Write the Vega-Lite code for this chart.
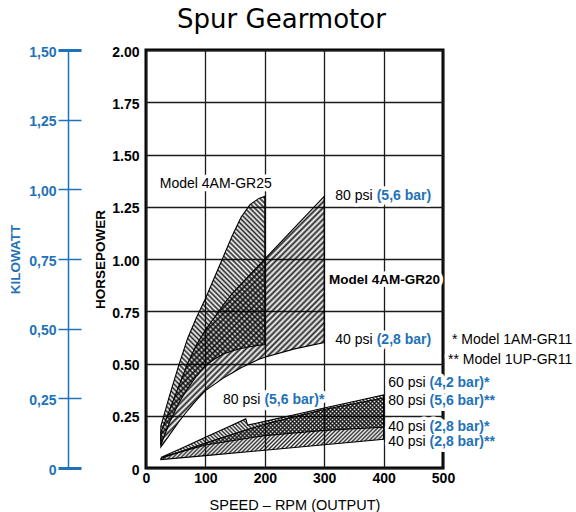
{
"$schema":"https://vega.github.io/schema/vega-lite/v6.json",
"width":297,"height":418,
"autosize":{"type":"none"},
"padding":{"left":146,"top":50,"right":133,"bottom":44},
"title":{"text":"Spur Gearmotor","font":"DejaVu Sans","fontSize":26,"fontWeight":"normal","color":"black","anchor":"middle","frame":"group","baseline":"alphabetic","offset":-8.5,"dx":-13},
"datasets":{
"gr25":[{"rpm":25,"hi":0.2,"lo":0.11},{"rpm":40,"hi":0.35,"lo":0.22},{"rpm":55,"hi":0.49,"lo":0.31},{"rpm":70,"hi":0.62,"lo":0.38},{"rpm":85,"hi":0.72,"lo":0.44},{"rpm":100,"hi":0.81,"lo":0.49},{"rpm":115,"hi":0.91,"lo":0.52},{"rpm":130,"hi":1.01,"lo":0.545},{"rpm":145,"hi":1.11,"lo":0.56},{"rpm":160,"hi":1.2,"lo":0.572},{"rpm":175,"hi":1.26,"lo":0.58},{"rpm":190,"hi":1.29,"lo":0.587},{"rpm":200,"hi":1.3,"lo":0.59}],
"gr20":[{"rpm":25,"hi":0.17,"lo":0.1},{"rpm":40,"hi":0.28,"lo":0.16},{"rpm":55,"hi":0.39,"lo":0.22},{"rpm":70,"hi":0.5,"lo":0.275},{"rpm":85,"hi":0.59,"lo":0.325},{"rpm":100,"hi":0.66,"lo":0.37},{"rpm":115,"hi":0.72,"lo":0.4},{"rpm":130,"hi":0.78,"lo":0.43},{"rpm":145,"hi":0.835,"lo":0.455},{"rpm":160,"hi":0.88,"lo":0.48},{"rpm":175,"hi":0.925,"lo":0.5},{"rpm":190,"hi":0.97,"lo":0.52},{"rpm":200,"hi":1.0,"lo":0.53},{"rpm":250,"hi":1.15,"lo":0.57},{"rpm":300,"hi":1.3,"lo":0.6}],
"am11":[{"rpm":25,"hi":0.05,"lo":0.05},{"rpm":60,"hi":0.095,"lo":0.078},{"rpm":100,"hi":0.147,"lo":0.11},{"rpm":140,"hi":0.199,"lo":0.128},{"rpm":168,"hi":0.235,"lo":0.141},{"rpm":171,"hi":0.205,"lo":0.142},{"rpm":200,"hi":0.223,"lo":0.155},{"rpm":250,"hi":0.255,"lo":0.1675},{"rpm":300,"hi":0.287,"lo":0.18},{"rpm":350,"hi":0.318,"lo":0.1875},{"rpm":400,"hi":0.35,"lo":0.195}],
"up11":[{"rpm":25,"hi":0.045,"lo":0.04},{"rpm":100,"hi":0.12,"lo":0.059},{"rpm":200,"hi":0.21,"lo":0.085},{"rpm":300,"hi":0.28,"lo":0.111},{"rpm":400,"hi":0.335,"lo":0.137}],
"labels":[{"x":211.8,"y":1.357,"t":"Model 4AM-GR25","kind":"note"},{"x":385,"y":1.3,"t":"80 psi","kind":"psi"},{"x":385,"y":1.3,"t":"(5,6 bar)","kind":"bar"},{"x":495,"y":0.9,"t":"Model 4AM-GR20","kind":"model"},{"x":385,"y":0.612,"t":"40 psi","kind":"psi"},{"x":385,"y":0.612,"t":"(2,8 bar)","kind":"bar"},{"x":717.6,"y":0.612,"t":"* Model 1AM-GR11","kind":"note"},{"x":717.6,"y":0.517,"t":"** Model 1UP-GR11","kind":"note"},{"x":196,"y":0.325,"t":"80 psi","kind":"psi"},{"x":196,"y":0.325,"t":"(5,6 bar)*","kind":"bar"},{"x":474,"y":0.407,"t":"60 psi","kind":"psi"},{"x":474,"y":0.407,"t":"(4,2 bar)*","kind":"bar"},{"x":474,"y":0.319,"t":"80 psi","kind":"psi"},{"x":474,"y":0.319,"t":"(5,6 bar)**","kind":"bar"},{"x":474,"y":0.198,"t":"40 psi","kind":"psi"},{"x":474,"y":0.198,"t":"(2,8 bar)*","kind":"bar"},{"x":474,"y":0.126,"t":"40 psi","kind":"psi"},{"x":474,"y":0.126,"t":"(2,8 bar)**","kind":"bar"}],
"kw":[{"kw":0},{"kw":1.5}]
},
"layer":[
{"layer":[
{"data":{"name":"labels"},
"mark":{"type":"text","fontSize":{"expr":"datum.kind == 'model' ? 13.5 : 14"},"baseline":"middle","align":{"expr":"datum.kind == 'bar' ? 'left' : 'right'"},"dx":{"expr":"datum.kind == 'bar' ? 2 : (datum.kind == 'psi' ? -2 : 0)"},"fontWeight":{"expr":"(datum.kind == 'bar' || datum.kind == 'model') ? 'bold' : 'normal'"},"fill":"white","stroke":"white","strokeWidth":7,"strokeJoin":"round"},
"encoding":{
"x":{"field":"x","type":"quantitative","scale":{"domain":[0,500],"nice":false},"axis":{"values":[0,100,200,300,400,500],"grid":true,"labelPadding":3,"title":"SPEED – RPM (OUTPUT)","titleFontSize":14.5,"titleFontWeight":"normal","titleY":41,"titleBaseline":"alphabetic"}},
"y":{"field":"y","type":"quantitative","scale":{"domain":[0,2],"nice":false},"axis":{"values":[0,0.25,0.5,0.75,1,1.25,1.5,1.75,2],"labelExpr":"datum.value == 0 ? '0' : format(datum.value, '.2f')","grid":true,"labelPadding":7,"labelOffset":2,"title":"HORSEPOWER","titleFontSize":13.5,"titleFontWeight":"bold","titleAngle":-90,"titleX":-46,"titleY":209,"titleBaseline":"middle","titleAlign":"center"}},
"text":{"field":"t"}}},
{"data":{"name":"gr25"},
"mark":{"type":"area","fillOpacity":0.85,"stroke":"black","strokeWidth":1.1,"fill":{"gradient":"linear","x1":0,"y1":1,"x2":0.5053,"y2":-0.2071,"stops":[{"offset":0,"color":"#000"},{"offset":0.007,"color":"#0000"},{"offset":0.014,"color":"#000"},{"offset":0.021,"color":"#0000"},{"offset":0.028,"color":"#000"},{"offset":0.035,"color":"#0000"},{"offset":0.042,"color":"#000"},{"offset":0.049,"color":"#0000"},{"offset":0.056,"color":"#000"},{"offset":0.063,"color":"#0000"},{"offset":0.07,"color":"#000"},{"offset":0.077,"color":"#0000"},{"offset":0.084,"color":"#000"},{"offset":0.091,"color":"#0000"},{"offset":0.098,"color":"#000"},{"offset":0.105,"color":"#0000"},{"offset":0.112,"color":"#000"},{"offset":0.119,"color":"#0000"},{"offset":0.126,"color":"#000"},{"offset":0.133,"color":"#0000"},{"offset":0.14,"color":"#000"},{"offset":0.147,"color":"#0000"},{"offset":0.154,"color":"#000"},{"offset":0.161,"color":"#0000"},{"offset":0.168,"color":"#000"},{"offset":0.175,"color":"#0000"},{"offset":0.182,"color":"#000"},{"offset":0.189,"color":"#0000"},{"offset":0.196,"color":"#000"},{"offset":0.203,"color":"#0000"},{"offset":0.21,"color":"#000"},{"offset":0.217,"color":"#0000"},{"offset":0.224,"color":"#000"},{"offset":0.231,"color":"#0000"},{"offset":0.238,"color":"#000"},{"offset":0.245,"color":"#0000"},{"offset":0.252,"color":"#000"},{"offset":0.259,"color":"#0000"},{"offset":0.266,"color":"#000"},{"offset":0.273,"color":"#0000"},{"offset":0.28,"color":"#000"},{"offset":0.287,"color":"#0000"},{"offset":0.294,"color":"#000"},{"offset":0.301,"color":"#0000"},{"offset":0.308,"color":"#000"},{"offset":0.315,"color":"#0000"},{"offset":0.322,"color":"#000"},{"offset":0.329,"color":"#0000"},{"offset":0.336,"color":"#000"},{"offset":0.343,"color":"#0000"},{"offset":0.35,"color":"#000"},{"offset":0.357,"color":"#0000"},{"offset":0.364,"color":"#000"},{"offset":0.371,"color":"#0000"},{"offset":0.378,"color":"#000"},{"offset":0.385,"color":"#0000"},{"offset":0.392,"color":"#000"},{"offset":0.399,"color":"#0000"},{"offset":0.406,"color":"#000"},{"offset":0.413,"color":"#0000"},{"offset":0.42,"color":"#000"},{"offset":0.427,"color":"#0000"},{"offset":0.434,"color":"#000"},{"offset":0.441,"color":"#0000"},{"offset":0.448,"color":"#000"},{"offset":0.455,"color":"#0000"},{"offset":0.462,"color":"#000"},{"offset":0.469,"color":"#0000"},{"offset":0.476,"color":"#000"},{"offset":0.483,"color":"#0000"},{"offset":0.49,"color":"#000"},{"offset":0.497,"color":"#0000"},{"offset":0.504,"color":"#000"},{"offset":0.511,"color":"#0000"},{"offset":0.518,"color":"#000"},{"offset":0.525,"color":"#0000"},{"offset":0.532,"color":"#000"},{"offset":0.539,"color":"#0000"},{"offset":0.546,"color":"#000"},{"offset":0.553,"color":"#0000"},{"offset":0.56,"color":"#000"},{"offset":0.567,"color":"#0000"},{"offset":0.574,"color":"#000"},{"offset":0.581,"color":"#0000"},{"offset":0.588,"color":"#000"},{"offset":0.595,"color":"#0000"},{"offset":0.602,"color":"#000"},{"offset":0.609,"color":"#0000"},{"offset":0.616,"color":"#000"},{"offset":0.623,"color":"#0000"},{"offset":0.63,"color":"#000"},{"offset":0.637,"color":"#0000"},{"offset":0.644,"color":"#000"},{"offset":0.651,"color":"#0000"},{"offset":0.658,"color":"#000"},{"offset":0.665,"color":"#0000"},{"offset":0.672,"color":"#000"},{"offset":0.679,"color":"#0000"},{"offset":0.686,"color":"#000"},{"offset":0.693,"color":"#0000"},{"offset":0.7,"color":"#000"},{"offset":0.707,"color":"#0000"},{"offset":0.714,"color":"#000"},{"offset":0.721,"color":"#0000"},{"offset":0.728,"color":"#000"},{"offset":0.735,"color":"#0000"},{"offset":0.742,"color":"#000"},{"offset":0.749,"color":"#0000"},{"offset":0.756,"color":"#000"},{"offset":0.763,"color":"#0000"},{"offset":0.77,"color":"#000"},{"offset":0.777,"color":"#0000"},{"offset":0.784,"color":"#000"},{"offset":0.791,"color":"#0000"},{"offset":0.798,"color":"#000"},{"offset":0.805,"color":"#0000"},{"offset":0.812,"color":"#000"},{"offset":0.819,"color":"#0000"},{"offset":0.826,"color":"#000"},{"offset":0.833,"color":"#0000"},{"offset":0.84,"color":"#000"},{"offset":0.847,"color":"#0000"},{"offset":0.854,"color":"#000"},{"offset":0.861,"color":"#0000"},{"offset":0.868,"color":"#000"},{"offset":0.875,"color":"#0000"},{"offset":0.882,"color":"#000"},{"offset":0.889,"color":"#0000"},{"offset":0.896,"color":"#000"},{"offset":0.903,"color":"#0000"},{"offset":0.91,"color":"#000"},{"offset":0.917,"color":"#0000"},{"offset":0.924,"color":"#000"},{"offset":0.931,"color":"#0000"},{"offset":0.938,"color":"#000"},{"offset":0.945,"color":"#0000"},{"offset":0.952,"color":"#000"},{"offset":0.959,"color":"#0000"},{"offset":0.966,"color":"#000"},{"offset":0.973,"color":"#0000"},{"offset":0.98,"color":"#000"},{"offset":0.987,"color":"#0000"},{"offset":0.994,"color":"#000"},{"offset":1,"color":"#0000"}]}},
"encoding":{"x":{"field":"rpm","type":"quantitative","scale":{"domain":[0,500],"nice":false}},"y":{"field":"hi","type":"quantitative","scale":{"domain":[0,2],"nice":false}},"y2":{"field":"lo"}}},
{"data":{"name":"gr20"},
"mark":{"type":"area","fillOpacity":0.85,"stroke":"black","strokeWidth":1.1,"fill":{"gradient":"linear","x1":0,"y1":0,"x2":0.7561,"y2":1.1591,"stops":[{"offset":0,"color":"#000"},{"offset":0.007,"color":"#0000"},{"offset":0.014,"color":"#000"},{"offset":0.021,"color":"#0000"},{"offset":0.028,"color":"#000"},{"offset":0.035,"color":"#0000"},{"offset":0.042,"color":"#000"},{"offset":0.049,"color":"#0000"},{"offset":0.056,"color":"#000"},{"offset":0.063,"color":"#0000"},{"offset":0.07,"color":"#000"},{"offset":0.077,"color":"#0000"},{"offset":0.084,"color":"#000"},{"offset":0.091,"color":"#0000"},{"offset":0.098,"color":"#000"},{"offset":0.105,"color":"#0000"},{"offset":0.112,"color":"#000"},{"offset":0.119,"color":"#0000"},{"offset":0.126,"color":"#000"},{"offset":0.133,"color":"#0000"},{"offset":0.14,"color":"#000"},{"offset":0.147,"color":"#0000"},{"offset":0.154,"color":"#000"},{"offset":0.161,"color":"#0000"},{"offset":0.168,"color":"#000"},{"offset":0.175,"color":"#0000"},{"offset":0.182,"color":"#000"},{"offset":0.189,"color":"#0000"},{"offset":0.196,"color":"#000"},{"offset":0.203,"color":"#0000"},{"offset":0.21,"color":"#000"},{"offset":0.217,"color":"#0000"},{"offset":0.224,"color":"#000"},{"offset":0.231,"color":"#0000"},{"offset":0.238,"color":"#000"},{"offset":0.245,"color":"#0000"},{"offset":0.252,"color":"#000"},{"offset":0.259,"color":"#0000"},{"offset":0.266,"color":"#000"},{"offset":0.273,"color":"#0000"},{"offset":0.28,"color":"#000"},{"offset":0.287,"color":"#0000"},{"offset":0.294,"color":"#000"},{"offset":0.301,"color":"#0000"},{"offset":0.308,"color":"#000"},{"offset":0.315,"color":"#0000"},{"offset":0.322,"color":"#000"},{"offset":0.329,"color":"#0000"},{"offset":0.336,"color":"#000"},{"offset":0.343,"color":"#0000"},{"offset":0.35,"color":"#000"},{"offset":0.357,"color":"#0000"},{"offset":0.364,"color":"#000"},{"offset":0.371,"color":"#0000"},{"offset":0.378,"color":"#000"},{"offset":0.385,"color":"#0000"},{"offset":0.392,"color":"#000"},{"offset":0.399,"color":"#0000"},{"offset":0.406,"color":"#000"},{"offset":0.413,"color":"#0000"},{"offset":0.42,"color":"#000"},{"offset":0.427,"color":"#0000"},{"offset":0.434,"color":"#000"},{"offset":0.441,"color":"#0000"},{"offset":0.448,"color":"#000"},{"offset":0.455,"color":"#0000"},{"offset":0.462,"color":"#000"},{"offset":0.469,"color":"#0000"},{"offset":0.476,"color":"#000"},{"offset":0.483,"color":"#0000"},{"offset":0.49,"color":"#000"},{"offset":0.497,"color":"#0000"},{"offset":0.504,"color":"#000"},{"offset":0.511,"color":"#0000"},{"offset":0.518,"color":"#000"},{"offset":0.525,"color":"#0000"},{"offset":0.532,"color":"#000"},{"offset":0.539,"color":"#0000"},{"offset":0.546,"color":"#000"},{"offset":0.553,"color":"#0000"},{"offset":0.56,"color":"#000"},{"offset":0.567,"color":"#0000"},{"offset":0.574,"color":"#000"},{"offset":0.581,"color":"#0000"},{"offset":0.588,"color":"#000"},{"offset":0.595,"color":"#0000"},{"offset":0.602,"color":"#000"},{"offset":0.609,"color":"#0000"},{"offset":0.616,"color":"#000"},{"offset":0.623,"color":"#0000"},{"offset":0.63,"color":"#000"},{"offset":0.637,"color":"#0000"},{"offset":0.644,"color":"#000"},{"offset":0.651,"color":"#0000"},{"offset":0.658,"color":"#000"},{"offset":0.665,"color":"#0000"},{"offset":0.672,"color":"#000"},{"offset":0.679,"color":"#0000"},{"offset":0.686,"color":"#000"},{"offset":0.693,"color":"#0000"},{"offset":0.7,"color":"#000"},{"offset":0.707,"color":"#0000"},{"offset":0.714,"color":"#000"},{"offset":0.721,"color":"#0000"},{"offset":0.728,"color":"#000"},{"offset":0.735,"color":"#0000"},{"offset":0.742,"color":"#000"},{"offset":0.749,"color":"#0000"},{"offset":0.756,"color":"#000"},{"offset":0.763,"color":"#0000"},{"offset":0.77,"color":"#000"},{"offset":0.777,"color":"#0000"},{"offset":0.784,"color":"#000"},{"offset":0.791,"color":"#0000"},{"offset":0.798,"color":"#000"},{"offset":0.805,"color":"#0000"},{"offset":0.812,"color":"#000"},{"offset":0.819,"color":"#0000"},{"offset":0.826,"color":"#000"},{"offset":0.833,"color":"#0000"},{"offset":0.84,"color":"#000"},{"offset":0.847,"color":"#0000"},{"offset":0.854,"color":"#000"},{"offset":0.861,"color":"#0000"},{"offset":0.868,"color":"#000"},{"offset":0.875,"color":"#0000"},{"offset":0.882,"color":"#000"},{"offset":0.889,"color":"#0000"},{"offset":0.896,"color":"#000"},{"offset":0.903,"color":"#0000"},{"offset":0.91,"color":"#000"},{"offset":0.917,"color":"#0000"},{"offset":0.924,"color":"#000"},{"offset":0.931,"color":"#0000"},{"offset":0.938,"color":"#000"},{"offset":0.945,"color":"#0000"},{"offset":0.952,"color":"#000"},{"offset":0.959,"color":"#0000"},{"offset":0.966,"color":"#000"},{"offset":0.973,"color":"#0000"},{"offset":0.98,"color":"#000"},{"offset":0.987,"color":"#0000"},{"offset":0.994,"color":"#000"},{"offset":1,"color":"#0000"}]}},
"encoding":{"x":{"field":"rpm","type":"quantitative","scale":{"domain":[0,500],"nice":false}},"y":{"field":"hi","type":"quantitative","scale":{"domain":[0,2],"nice":false}},"y2":{"field":"lo"}}},
{"data":{"name":"up11"},
"mark":{"type":"area","fillOpacity":0.85,"stroke":"black","strokeWidth":1.1,"fill":{"gradient":"linear","x1":0,"y1":0,"x2":1.1858,"y2":0.328,"stops":[{"offset":0,"color":"#000"},{"offset":0.007,"color":"#0000"},{"offset":0.014,"color":"#000"},{"offset":0.021,"color":"#0000"},{"offset":0.028,"color":"#000"},{"offset":0.035,"color":"#0000"},{"offset":0.042,"color":"#000"},{"offset":0.049,"color":"#0000"},{"offset":0.056,"color":"#000"},{"offset":0.063,"color":"#0000"},{"offset":0.07,"color":"#000"},{"offset":0.077,"color":"#0000"},{"offset":0.084,"color":"#000"},{"offset":0.091,"color":"#0000"},{"offset":0.098,"color":"#000"},{"offset":0.105,"color":"#0000"},{"offset":0.112,"color":"#000"},{"offset":0.119,"color":"#0000"},{"offset":0.126,"color":"#000"},{"offset":0.133,"color":"#0000"},{"offset":0.14,"color":"#000"},{"offset":0.147,"color":"#0000"},{"offset":0.154,"color":"#000"},{"offset":0.161,"color":"#0000"},{"offset":0.168,"color":"#000"},{"offset":0.175,"color":"#0000"},{"offset":0.182,"color":"#000"},{"offset":0.189,"color":"#0000"},{"offset":0.196,"color":"#000"},{"offset":0.203,"color":"#0000"},{"offset":0.21,"color":"#000"},{"offset":0.217,"color":"#0000"},{"offset":0.224,"color":"#000"},{"offset":0.231,"color":"#0000"},{"offset":0.238,"color":"#000"},{"offset":0.245,"color":"#0000"},{"offset":0.252,"color":"#000"},{"offset":0.259,"color":"#0000"},{"offset":0.266,"color":"#000"},{"offset":0.273,"color":"#0000"},{"offset":0.28,"color":"#000"},{"offset":0.287,"color":"#0000"},{"offset":0.294,"color":"#000"},{"offset":0.301,"color":"#0000"},{"offset":0.308,"color":"#000"},{"offset":0.315,"color":"#0000"},{"offset":0.322,"color":"#000"},{"offset":0.329,"color":"#0000"},{"offset":0.336,"color":"#000"},{"offset":0.343,"color":"#0000"},{"offset":0.35,"color":"#000"},{"offset":0.357,"color":"#0000"},{"offset":0.364,"color":"#000"},{"offset":0.371,"color":"#0000"},{"offset":0.378,"color":"#000"},{"offset":0.385,"color":"#0000"},{"offset":0.392,"color":"#000"},{"offset":0.399,"color":"#0000"},{"offset":0.406,"color":"#000"},{"offset":0.413,"color":"#0000"},{"offset":0.42,"color":"#000"},{"offset":0.427,"color":"#0000"},{"offset":0.434,"color":"#000"},{"offset":0.441,"color":"#0000"},{"offset":0.448,"color":"#000"},{"offset":0.455,"color":"#0000"},{"offset":0.462,"color":"#000"},{"offset":0.469,"color":"#0000"},{"offset":0.476,"color":"#000"},{"offset":0.483,"color":"#0000"},{"offset":0.49,"color":"#000"},{"offset":0.497,"color":"#0000"},{"offset":0.504,"color":"#000"},{"offset":0.511,"color":"#0000"},{"offset":0.518,"color":"#000"},{"offset":0.525,"color":"#0000"},{"offset":0.532,"color":"#000"},{"offset":0.539,"color":"#0000"},{"offset":0.546,"color":"#000"},{"offset":0.553,"color":"#0000"},{"offset":0.56,"color":"#000"},{"offset":0.567,"color":"#0000"},{"offset":0.574,"color":"#000"},{"offset":0.581,"color":"#0000"},{"offset":0.588,"color":"#000"},{"offset":0.595,"color":"#0000"},{"offset":0.602,"color":"#000"},{"offset":0.609,"color":"#0000"},{"offset":0.616,"color":"#000"},{"offset":0.623,"color":"#0000"},{"offset":0.63,"color":"#000"},{"offset":0.637,"color":"#0000"},{"offset":0.644,"color":"#000"},{"offset":0.651,"color":"#0000"},{"offset":0.658,"color":"#000"},{"offset":0.665,"color":"#0000"},{"offset":0.672,"color":"#000"},{"offset":0.679,"color":"#0000"},{"offset":0.686,"color":"#000"},{"offset":0.693,"color":"#0000"},{"offset":0.7,"color":"#000"},{"offset":0.707,"color":"#0000"},{"offset":0.714,"color":"#000"},{"offset":0.721,"color":"#0000"},{"offset":0.728,"color":"#000"},{"offset":0.735,"color":"#0000"},{"offset":0.742,"color":"#000"},{"offset":0.749,"color":"#0000"},{"offset":0.756,"color":"#000"},{"offset":0.763,"color":"#0000"},{"offset":0.77,"color":"#000"},{"offset":0.777,"color":"#0000"},{"offset":0.784,"color":"#000"},{"offset":0.791,"color":"#0000"},{"offset":0.798,"color":"#000"},{"offset":0.805,"color":"#0000"},{"offset":0.812,"color":"#000"},{"offset":0.819,"color":"#0000"},{"offset":0.826,"color":"#000"},{"offset":0.833,"color":"#0000"},{"offset":0.84,"color":"#000"},{"offset":0.847,"color":"#0000"},{"offset":0.854,"color":"#000"},{"offset":0.861,"color":"#0000"},{"offset":0.868,"color":"#000"},{"offset":0.875,"color":"#0000"},{"offset":0.882,"color":"#000"},{"offset":0.889,"color":"#0000"},{"offset":0.896,"color":"#000"},{"offset":0.903,"color":"#0000"},{"offset":0.91,"color":"#000"},{"offset":0.917,"color":"#0000"},{"offset":0.924,"color":"#000"},{"offset":0.931,"color":"#0000"},{"offset":0.938,"color":"#000"},{"offset":0.945,"color":"#0000"},{"offset":0.952,"color":"#000"},{"offset":0.959,"color":"#0000"},{"offset":0.966,"color":"#000"},{"offset":0.973,"color":"#0000"},{"offset":0.98,"color":"#000"},{"offset":0.987,"color":"#0000"},{"offset":0.994,"color":"#000"},{"offset":1,"color":"#0000"}]}},
"encoding":{"x":{"field":"rpm","type":"quantitative","scale":{"domain":[0,500],"nice":false}},"y":{"field":"hi","type":"quantitative","scale":{"domain":[0,2],"nice":false}},"y2":{"field":"lo"}}},
{"data":{"name":"am11"},
"mark":{"type":"area","fillOpacity":0.85,"stroke":"black","strokeWidth":1.1,"fill":{"gradient":"linear","x1":0,"y1":1,"x2":1.1873,"y2":0.6663,"stops":[{"offset":0,"color":"#000"},{"offset":0.007,"color":"#0000"},{"offset":0.014,"color":"#000"},{"offset":0.021,"color":"#0000"},{"offset":0.028,"color":"#000"},{"offset":0.035,"color":"#0000"},{"offset":0.042,"color":"#000"},{"offset":0.049,"color":"#0000"},{"offset":0.056,"color":"#000"},{"offset":0.063,"color":"#0000"},{"offset":0.07,"color":"#000"},{"offset":0.077,"color":"#0000"},{"offset":0.084,"color":"#000"},{"offset":0.091,"color":"#0000"},{"offset":0.098,"color":"#000"},{"offset":0.105,"color":"#0000"},{"offset":0.112,"color":"#000"},{"offset":0.119,"color":"#0000"},{"offset":0.126,"color":"#000"},{"offset":0.133,"color":"#0000"},{"offset":0.14,"color":"#000"},{"offset":0.147,"color":"#0000"},{"offset":0.154,"color":"#000"},{"offset":0.161,"color":"#0000"},{"offset":0.168,"color":"#000"},{"offset":0.175,"color":"#0000"},{"offset":0.182,"color":"#000"},{"offset":0.189,"color":"#0000"},{"offset":0.196,"color":"#000"},{"offset":0.203,"color":"#0000"},{"offset":0.21,"color":"#000"},{"offset":0.217,"color":"#0000"},{"offset":0.224,"color":"#000"},{"offset":0.231,"color":"#0000"},{"offset":0.238,"color":"#000"},{"offset":0.245,"color":"#0000"},{"offset":0.252,"color":"#000"},{"offset":0.259,"color":"#0000"},{"offset":0.266,"color":"#000"},{"offset":0.273,"color":"#0000"},{"offset":0.28,"color":"#000"},{"offset":0.287,"color":"#0000"},{"offset":0.294,"color":"#000"},{"offset":0.301,"color":"#0000"},{"offset":0.308,"color":"#000"},{"offset":0.315,"color":"#0000"},{"offset":0.322,"color":"#000"},{"offset":0.329,"color":"#0000"},{"offset":0.336,"color":"#000"},{"offset":0.343,"color":"#0000"},{"offset":0.35,"color":"#000"},{"offset":0.357,"color":"#0000"},{"offset":0.364,"color":"#000"},{"offset":0.371,"color":"#0000"},{"offset":0.378,"color":"#000"},{"offset":0.385,"color":"#0000"},{"offset":0.392,"color":"#000"},{"offset":0.399,"color":"#0000"},{"offset":0.406,"color":"#000"},{"offset":0.413,"color":"#0000"},{"offset":0.42,"color":"#000"},{"offset":0.427,"color":"#0000"},{"offset":0.434,"color":"#000"},{"offset":0.441,"color":"#0000"},{"offset":0.448,"color":"#000"},{"offset":0.455,"color":"#0000"},{"offset":0.462,"color":"#000"},{"offset":0.469,"color":"#0000"},{"offset":0.476,"color":"#000"},{"offset":0.483,"color":"#0000"},{"offset":0.49,"color":"#000"},{"offset":0.497,"color":"#0000"},{"offset":0.504,"color":"#000"},{"offset":0.511,"color":"#0000"},{"offset":0.518,"color":"#000"},{"offset":0.525,"color":"#0000"},{"offset":0.532,"color":"#000"},{"offset":0.539,"color":"#0000"},{"offset":0.546,"color":"#000"},{"offset":0.553,"color":"#0000"},{"offset":0.56,"color":"#000"},{"offset":0.567,"color":"#0000"},{"offset":0.574,"color":"#000"},{"offset":0.581,"color":"#0000"},{"offset":0.588,"color":"#000"},{"offset":0.595,"color":"#0000"},{"offset":0.602,"color":"#000"},{"offset":0.609,"color":"#0000"},{"offset":0.616,"color":"#000"},{"offset":0.623,"color":"#0000"},{"offset":0.63,"color":"#000"},{"offset":0.637,"color":"#0000"},{"offset":0.644,"color":"#000"},{"offset":0.651,"color":"#0000"},{"offset":0.658,"color":"#000"},{"offset":0.665,"color":"#0000"},{"offset":0.672,"color":"#000"},{"offset":0.679,"color":"#0000"},{"offset":0.686,"color":"#000"},{"offset":0.693,"color":"#0000"},{"offset":0.7,"color":"#000"},{"offset":0.707,"color":"#0000"},{"offset":0.714,"color":"#000"},{"offset":0.721,"color":"#0000"},{"offset":0.728,"color":"#000"},{"offset":0.735,"color":"#0000"},{"offset":0.742,"color":"#000"},{"offset":0.749,"color":"#0000"},{"offset":0.756,"color":"#000"},{"offset":0.763,"color":"#0000"},{"offset":0.77,"color":"#000"},{"offset":0.777,"color":"#0000"},{"offset":0.784,"color":"#000"},{"offset":0.791,"color":"#0000"},{"offset":0.798,"color":"#000"},{"offset":0.805,"color":"#0000"},{"offset":0.812,"color":"#000"},{"offset":0.819,"color":"#0000"},{"offset":0.826,"color":"#000"},{"offset":0.833,"color":"#0000"},{"offset":0.84,"color":"#000"},{"offset":0.847,"color":"#0000"},{"offset":0.854,"color":"#000"},{"offset":0.861,"color":"#0000"},{"offset":0.868,"color":"#000"},{"offset":0.875,"color":"#0000"},{"offset":0.882,"color":"#000"},{"offset":0.889,"color":"#0000"},{"offset":0.896,"color":"#000"},{"offset":0.903,"color":"#0000"},{"offset":0.91,"color":"#000"},{"offset":0.917,"color":"#0000"},{"offset":0.924,"color":"#000"},{"offset":0.931,"color":"#0000"},{"offset":0.938,"color":"#000"},{"offset":0.945,"color":"#0000"},{"offset":0.952,"color":"#000"},{"offset":0.959,"color":"#0000"},{"offset":0.966,"color":"#000"},{"offset":0.973,"color":"#0000"},{"offset":0.98,"color":"#000"},{"offset":0.987,"color":"#0000"},{"offset":0.994,"color":"#000"},{"offset":1,"color":"#0000"}]}},
"encoding":{"x":{"field":"rpm","type":"quantitative","scale":{"domain":[0,500],"nice":false}},"y":{"field":"hi","type":"quantitative","scale":{"domain":[0,2],"nice":false}},"y2":{"field":"lo"}}},
{"data":{"name":"labels"},
"mark":{"type":"text","fontSize":{"expr":"datum.kind == 'model' ? 13.5 : 14"},"baseline":"middle","align":{"expr":"datum.kind == 'bar' ? 'left' : 'right'"},"dx":{"expr":"datum.kind == 'bar' ? 2 : (datum.kind == 'psi' ? -2 : 0)"},"fontWeight":{"expr":"(datum.kind == 'bar' || datum.kind == 'model') ? 'bold' : 'normal'"},"fill":{"expr":"datum.kind == 'bar' ? '#1f72b8' : 'black'"}},
"encoding":{"x":{"field":"x","type":"quantitative","scale":{"domain":[0,500],"nice":false}},"y":{"field":"y","type":"quantitative","scale":{"domain":[0,2],"nice":false}},"text":{"field":"t"}}}
]},
{"data":{"name":"kw"},"mark":{"type":"rule","strokeOpacity":0},
"encoding":{"y":{"field":"kw","type":"quantitative","scale":{"domain":[0,1.5],"nice":false},"axis":{"orient":"left","offset":65,"values":[0,0.25,0.5,0.75,1,1.25,1.5],"labelExpr":"datum.value == 0 ? '0' : replace(format(datum.value, '.2f'), '.', ',')","grid":false,"domain":false,"ticks":true,"tickSize":23,"tickColor":"#1f72b8","tickWidth":{"condition":{"test":"datum.value == 0 || datum.value == 1.5","value":3},"value":1.5},"labelPadding":2,"labelOffset":2,"labelColor":"#1f72b8","title":"KILOWATT","titleColor":"#1f72b8","titleFontSize":13.5,"titleFontWeight":"bold","titleAngle":-90,"titleX":-66,"titleY":209,"titleBaseline":"middle","titleAlign":"center"}}}},
{"data":{"name":"kw"},"mark":{"type":"rule","strokeOpacity":0},
"encoding":{"y":{"field":"kw","type":"quantitative","scale":{"domain":[0,1.5],"nice":false},"axis":{"orient":"left","offset":78,"grid":false,"domain":true,"domainColor":"#1f72b8","domainWidth":1.5,"ticks":false,"labels":false,"title":null}}}}
],
"resolve":{"scale":{"y":"independent"}},
"config":{
"view":{"stroke":"black","strokeWidth":3},
"font":"Liberation Sans, Arial, sans-serif",
"text":{"font":"Liberation Sans, Arial, sans-serif"},
"axis":{"labelFont":"Liberation Sans, Arial, sans-serif","labelFontSize":14,"labelFontWeight":"bold","labelColor":"black","titleFont":"Liberation Sans, Arial, sans-serif","titleColor":"black","gridColor":"#1a1a1a","gridWidth":1.3,"gridOpacity":1,"domain":false,"ticks":false,"labelOverlap":false,"labelFlush":false}
}
}
